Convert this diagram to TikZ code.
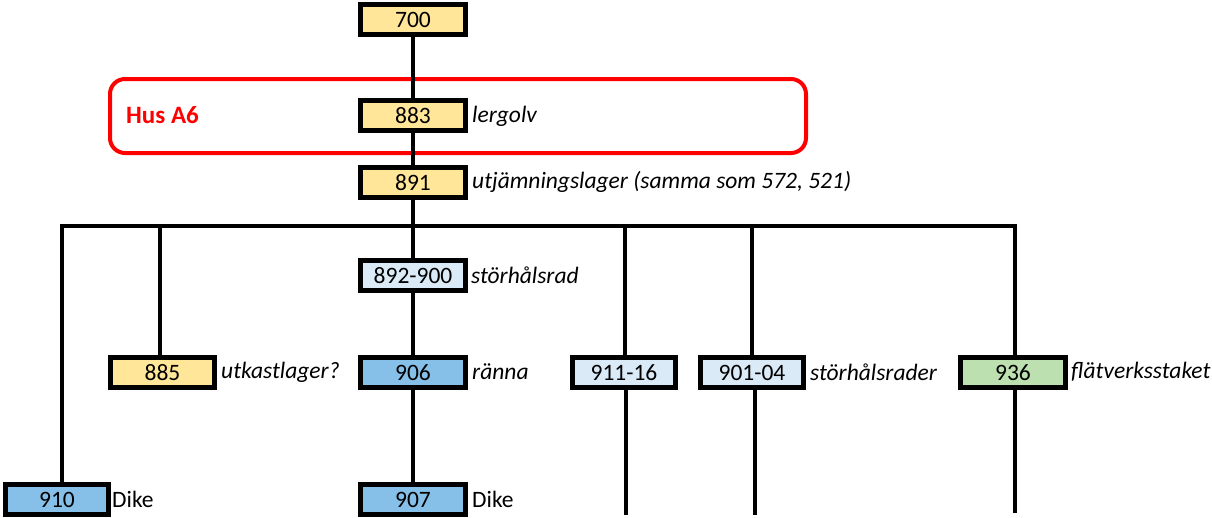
\documentclass[tikz,border=0pt]{standalone}
\usepackage{fontspec}
\setmainfont{Carlito}
\definecolor{cyel}{HTML}{FFE699}
\definecolor{clblue}{HTML}{DAEAF6}
\definecolor{cblue}{HTML}{86C0E8}
\definecolor{cgreen}{HTML}{BDE0B1}
\definecolor{cred}{HTML}{FF0000}
\tikzset{
  box/.style={draw=black, line width=5pt, minimum height=30pt, minimum width=105pt,
    inner sep=0pt, font=\fontsize{23.5}{27}\selectfont},
  yel/.style={box, fill=cyel},
  lb/.style={box, fill=clblue},
  bl/.style={box, fill=cblue},
  gr/.style={box, fill=cgreen},
  lab/.style={anchor=west, inner sep=0pt, font=\fontsize{23.5}{27}\selectfont\itshape},
  labn/.style={anchor=west, inner sep=0pt, font=\fontsize{23.5}{27}\selectfont},
  conn/.style={line width=4pt},
}
\begin{document}
\begin{tikzpicture}[x=1pt,y=-1pt]
\useasboundingbox (0,0) rectangle (1212,517);
% red house frame
\node[draw=cred, line width=4pt, rounded corners=15pt, minimum width=696pt, minimum height=74pt, inner sep=0pt] (hus) at (458,116) {};
\node[anchor=west, inner sep=0pt, text=cred, font=\fontsize{25}{29}\selectfont\bfseries] (husl) at (126,115) {Hus A6};
% bar coordinates
\coordinate (bL) at (60,226);
\coordinate (bR) at (1017,226);
\coordinate (b910) at (62,226);
\coordinate (b885) at (160,226);
\coordinate (b911) at (625,226);
\coordinate (b901) at (752,226);
\coordinate (b936) at (1015,226);
\coordinate (e911) at (626,515);
\coordinate (e901) at (755,515);
\coordinate (e936) at (1015,513);
% boxes
\node[yel] (n700) at (413,19.5) {700};
\node[yel] (n883) at (413,115.5) {883};
\node[yel] (n891) at (413,182.5) {891};
\node[lb] (n892) at (413,275.5) {892-900};
\node[yel, minimum width=104pt] (n885) at (162.5,372.5) {885};
\node[bl] (n906) at (413,372.5) {906};
\node[lb, minimum width=103pt] (n911) at (624,372.5) {911-16};
\node[lb, minimum width=103pt] (n901) at (752,372.5) {901-04};
\node[gr] (n936) at (1013,372.5) {936};
\node[bl, minimum width=103pt] (n910) at (57,499.5) {910};
\node[bl] (n907) at (413,499.5) {907};
\coordinate (bmid) at (n891.south |- bL);
% connectors
\begin{scope}[on background layer/.style={}]
\end{scope}
\draw[conn] (bL) -- (bR);
\draw[conn] (n700) -- (n883);
\draw[conn] (n883) -- (n891);
\draw[conn] (n891) -- (bmid);
\draw[conn] (bmid) -- (n892);
\draw[conn] (n892) -- (n906);
\draw[conn] (n906) -- (n907);
\draw[conn] (b910) -- (b910 |- n910.north);
\draw[conn] (b885) -- (b885 |- n885.north);
\draw[conn] (b911) -- (b911 |- n911.north);
\draw[conn] (b901) -- (b901 |- n901.north);
\draw[conn] (b936) -- (b936 |- n936.north);
\draw[conn] (n911.south -| e911) -- (e911);
\draw[conn] (n901.south -| e901) -- (e901);
\draw[conn] (n936.south -| e936) -- (e936);
% labels
\node[lab] (l883) at (472,116) {lergolv};
\node[lab] (l891) at (472,182) {utjämningslager (samma som 572, 521)};
\node[lab] (l892) at (471,275) {störhålsrad};
\node[lab] (l885) at (221,372) {utkastlager?};
\node[lab] (l906) at (472,372) {ränna};
\node[lab] (l901) at (810,372) {störhålsrader};
\node[lab] (l936) at (1071,372) {flätverksstaket};
\node[labn] (l910) at (112,499) {Dike};
\node[labn] (l907) at (472,499) {Dike};
\end{tikzpicture}
\end{document}
